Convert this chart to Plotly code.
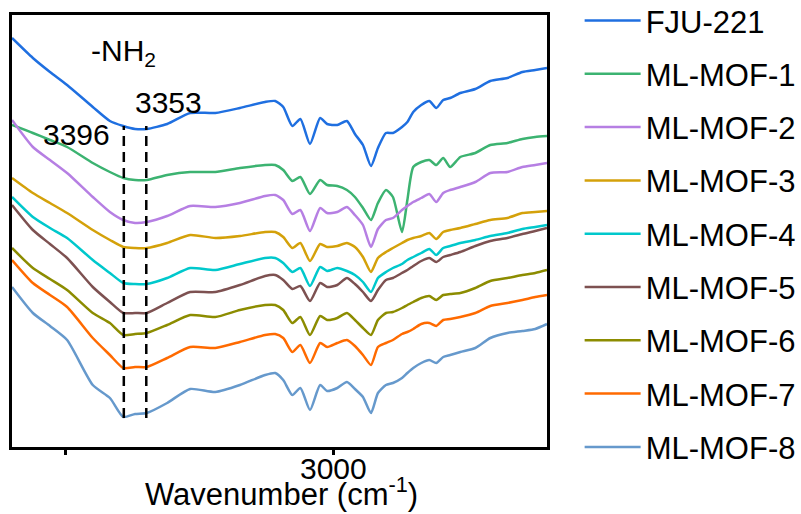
import plotly.graph_objects as go

wavenumber = [3600, 3561, 3529, 3497, 3449, 3417, 3392, 3370, 3348, 3310,
              3267, 3220, 3174, 3127, 3108, 3093, 3076, 3061, 3043, 3024,
              3011, 2992, 2974, 2959, 2944, 2929, 2916, 2901, 2888, 2871,
              2861, 2850, 2835, 2820, 2807, 2794, 2781, 2762, 2734, 2706,
              2674, 2646, 2622, 2600]

fju_221 = [409, 389, 375, 362, 340, 326, 321, 318, 318, 323,
           334, 334, 339, 345, 346, 340, 321, 328, 303, 329,
           323, 322, 326, 313, 302, 281, 299, 314, 314, 320,
           325, 335, 342, 346, 339, 347, 349, 354, 358, 366,
           369, 375, 377, 379]
ml_mof_1 = [322, 314, 307, 300, 284, 275, 269, 267, 267, 272,
            275, 275, 279, 282, 282, 277, 266, 270, 253, 267,
            262, 261, 257, 250, 239, 227, 244, 257, 250, 215,
            247, 280, 285, 287, 282, 289, 280, 290, 294, 302,
            304, 308, 310, 311]
ml_mof_2 = [327, 300, 287, 274, 250, 235, 227, 224, 225, 231,
            241, 240, 244, 251, 252, 247, 233, 237, 216, 239,
            234, 235, 240, 232, 222, 200, 218, 227, 229, 237,
            241, 245, 249, 253, 245, 254, 257, 260, 265, 274,
            275, 280, 282, 284]
ml_mof_3 = [269, 254, 244, 234, 217, 207, 200, 199, 199, 204,
            212, 209, 211, 215, 215, 210, 199, 204, 186, 203,
            200, 201, 204, 200, 190, 175, 189, 195, 199, 204,
            207, 209, 211, 214, 208, 215, 217, 219, 223, 227,
            229, 234, 235, 236]
ml_mof_4 = [250, 230, 219, 209, 187, 174, 164, 163, 163, 169,
            179, 177, 183, 189, 189, 184, 175, 179, 161, 180,
            176, 179, 176, 172, 165, 155, 169, 175, 179, 183,
            187, 190, 194, 198, 192, 199, 201, 204, 207, 211,
            214, 218, 220, 222]
ml_mof_5 = [242, 217, 203, 189, 160, 145, 134, 134, 134, 144,
            155, 155, 162, 171, 172, 167, 158, 161, 146, 164,
            160, 162, 169, 163, 155, 146, 157, 167, 169, 174,
            177, 181, 186, 189, 185, 190, 192, 195, 201, 206,
            209, 213, 216, 219]
ml_mof_6 = [199, 179, 168, 157, 134, 124, 112, 113, 114, 122,
            132, 130, 137, 142, 142, 137, 124, 130, 112, 131,
            127, 129, 134, 127, 119, 112, 127, 134, 135, 139,
            142, 145, 149, 151, 147, 152, 153, 154, 159, 166,
            169, 172, 174, 177]
ml_mof_7 = [187, 164, 152, 140, 109, 92, 79, 80, 80, 89,
            100, 99, 105, 112, 113, 109, 95, 102, 84, 104,
            100, 104, 107, 101, 92, 82, 100, 104, 107, 113,
            115, 118, 123, 124, 121, 127, 128, 130, 134, 141,
            144, 147, 150, 152]
ml_mof_8 = [160, 134, 121, 107, 62, 49, 30, 33, 34, 44,
            58, 55, 62, 72, 74, 67, 52, 59, 37, 62,
            56, 59, 65, 58, 50, 34, 54, 62, 64, 69,
            74, 79, 84, 87, 84, 90, 92, 95, 99, 109,
            114, 116, 118, 123]

series_names = ["FJU-221", "ML-MOF-1", "ML-MOF-2", "ML-MOF-3", "ML-MOF-4",
                "ML-MOF-5", "ML-MOF-6", "ML-MOF-7", "ML-MOF-8"]
series_values = [fju_221, ml_mof_1, ml_mof_2, ml_mof_3, ml_mof_4,
                 ml_mof_5, ml_mof_6, ml_mof_7, ml_mof_8]
colors = ["#1f6fe0", "#3cb371", "#b67fe3", "#d4a10a", "#00c8cc",
          "#7d5151", "#8c8c00", "#ff6a00", "#6699cc"]

tick_vals = [3500, 3000]
tick_text = ["", "3000"]

# dashed marker lines (as drawn) and their labels
mark_lines = [3391, 3349]
mark_labels = ["3396", "3353"]

FONT = "Liberation Sans, Arial, sans-serif"

fig = go.Figure()
for i, (name, vals, col) in enumerate(zip(series_names, series_values, colors)):
    fig.add_trace(go.Scatter(
        x=wavenumber, y=vals, mode="lines", name=name,
        legendgroup=f"g{i}",
        line=dict(color=col, width=2.5, shape="spline", smoothing=0.6),
    ))

for xv in mark_lines:
    fig.add_shape(type="line", x0=xv, x1=xv, y0=29, y1=321, xref="x", yref="y",
                  line=dict(color="black", width=2.5, dash="10px,6px"))

fig.add_annotation(x=3391, y=395, text="-NH<sub>2</sub>", showarrow=False,
                   font=dict(size=30, color="black", family=FONT))
fig.add_annotation(x=3480, y=313, text=mark_labels[0], showarrow=False,
                   font=dict(size=30, color="black", family=FONT))
fig.add_annotation(x=3307, y=345, text=mark_labels[1], showarrow=False,
                   font=dict(size=30, color="black", family=FONT))

# tick labels placed just under their ticks (tight, as in the reference)
for tv, tt in zip(tick_vals, tick_text):
    if tt:
        fig.add_annotation(x=tv, xref="x", yref="paper", y=-0.050,
                           xanchor="center", yanchor="middle", showarrow=False,
                           text=tt, font=dict(size=30, color="black", family=FONT))

fig.add_annotation(xref="paper", yref="paper", x=0.503, y=-0.105,
                   xanchor="center", yanchor="middle", showarrow=False,
                   text="Wavenumber (cm<sup>-1</sup>)",
                   font=dict(size=31, color="black", family=FONT))

fig.update_layout(
    width=801, height=514,
    margin=dict(l=12, r=254, t=15, b=67, autoexpand=False),
    plot_bgcolor="white", paper_bgcolor="white",
    font=dict(family=FONT, size=30, color="black"),
    showlegend=True,
    legend=dict(x=1.061, xanchor="left", y=1.049, yanchor="top",
                font=dict(size=31, family=FONT), tracegroupgap=10,
                itemwidth=56, maxheight=514, bgcolor="rgba(0,0,0,0)"),
    xaxis=dict(range=[3600, 2600], showline=True, mirror=True, linecolor="black",
               linewidth=2.5, showgrid=False, zeroline=False,
               ticks="outside", ticklen=5, tickwidth=2.5, tickcolor="black",
               tickvals=tick_vals, showticklabels=False),
    yaxis=dict(range=[0, 432], showline=True, mirror=True, linecolor="black",
               linewidth=2.5, showgrid=False, zeroline=False,
               showticklabels=False, ticks=""),
)

fig.write_html("out.html")
